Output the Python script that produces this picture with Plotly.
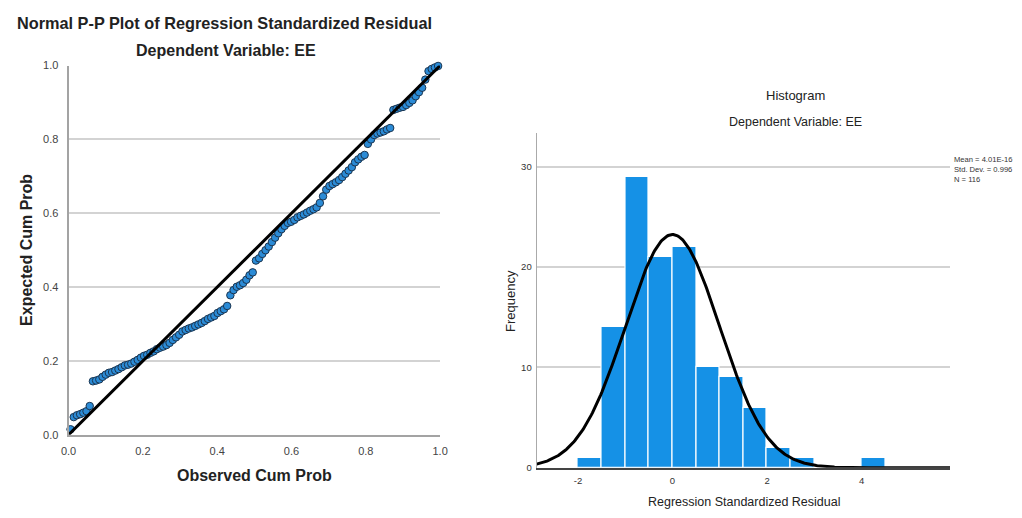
import numpy as np
import plotly.graph_objects as go

# ---------------- P-P plot data (116 ranked standardized residuals) ----------------
observed_cum_prob = [
    0.0054, 0.0140, 0.0226, 0.0312, 0.0398, 0.0484, 0.0570, 0.0656, 0.0742, 0.0828,
    0.0914, 0.1000, 0.1086, 0.1172, 0.1258, 0.1344, 0.1430, 0.1516, 0.1602, 0.1688,
    0.1774, 0.1860, 0.1946, 0.2032, 0.2118, 0.2204, 0.2290, 0.2376, 0.2462, 0.2548,
    0.2634, 0.2720, 0.2806, 0.2892, 0.2978, 0.3065, 0.3151, 0.3237, 0.3323, 0.3409,
    0.3495, 0.3581, 0.3667, 0.3753, 0.3839, 0.3925, 0.4011, 0.4097, 0.4183, 0.4269,
    0.4355, 0.4441, 0.4527, 0.4613, 0.4699, 0.4785, 0.4871, 0.4957, 0.5043, 0.5129,
    0.5215, 0.5301, 0.5387, 0.5473, 0.5559, 0.5645, 0.5731, 0.5817, 0.5903, 0.5989,
    0.6075, 0.6161, 0.6247, 0.6333, 0.6419, 0.6505, 0.6591, 0.6677, 0.6763, 0.6849,
    0.6935, 0.7022, 0.7108, 0.7194, 0.7280, 0.7366, 0.7452, 0.7538, 0.7624, 0.7710,
    0.7796, 0.7882, 0.7968, 0.8054, 0.8140, 0.8226, 0.8312, 0.8398, 0.8484, 0.8570,
    0.8656, 0.8742, 0.8828, 0.8914, 0.9000, 0.9086, 0.9172, 0.9258, 0.9344, 0.9430,
    0.9516, 0.9602, 0.9688, 0.9774, 0.9860, 0.9946,
]
expected_cum_prob = [
    0.015, 0.048, 0.053, 0.056, 0.060, 0.064, 0.078, 0.145, 0.147, 0.150,
    0.157, 0.163, 0.168, 0.170, 0.174, 0.178, 0.183, 0.188, 0.190, 0.193,
    0.198, 0.203, 0.209, 0.214, 0.217, 0.222, 0.226, 0.232, 0.236, 0.239,
    0.243, 0.249, 0.257, 0.264, 0.271, 0.280, 0.284, 0.288, 0.291, 0.295,
    0.299, 0.303, 0.308, 0.314, 0.318, 0.322, 0.330, 0.335, 0.340, 0.349,
    0.378, 0.392, 0.401, 0.405, 0.411, 0.420, 0.432, 0.440, 0.472, 0.478,
    0.490, 0.500, 0.510, 0.522, 0.534, 0.546, 0.557, 0.566, 0.574, 0.577,
    0.582, 0.589, 0.593, 0.597, 0.602, 0.607, 0.611, 0.616, 0.628, 0.646,
    0.664, 0.674, 0.679, 0.684, 0.690, 0.698, 0.707, 0.716, 0.725, 0.738,
    0.746, 0.753, 0.758, 0.788, 0.800, 0.812, 0.816, 0.819, 0.822, 0.827,
    0.831, 0.880, 0.883, 0.886, 0.888, 0.893, 0.899, 0.906, 0.917, 0.928,
    0.940, 0.962, 0.985, 0.991, 0.995, 0.999,
]
pp_ticks = [0.0, 0.2, 0.4, 0.6, 0.8, 1.0]
pp_tick_labels = ["0.0", "0.2", "0.4", "0.6", "0.8", "1.0"]

# ---------------- Histogram data ----------------
bin_starts = [-2.0, -1.5, -1.0, -0.5, 0.0, 0.5, 1.0, 1.5, 2.0, 2.5, 4.0]
bin_counts = [1, 14, 29, 21, 22, 10, 9, 6, 2, 1, 1]
bin_width = 0.5
resid_mean = 4.01e-16
resid_sd = 0.996
n_cases = 116
hist_xticks = [-2, 0, 2, 4]
hist_xtick_labels = ["-2", "0", "2", "4"]
hist_yticks = [0, 10, 20, 30]
hist_ytick_labels = ["0", "10", "20", "30"]

FONT = "Liberation Sans, Arial, sans-serif"

fig = go.Figure()

# P-P points
fig.add_trace(go.Scatter(
    x=observed_cum_prob, y=expected_cum_prob, mode="markers",
    marker=dict(size=7.5, color="#2b8bd6", line=dict(color="#1b3550", width=1)),
    cliponaxis=False, xaxis="x", yaxis="y", hoverinfo="skip",
))
# reference diagonal
fig.add_trace(go.Scatter(
    x=[0, 1], y=[0, 1], mode="lines",
    line=dict(color="black", width=3), cliponaxis=False,
    xaxis="x", yaxis="y", hoverinfo="skip",
))

# histogram bars
bar_centers = [s + bin_width / 2 for s in bin_starts]
fig.add_trace(go.Bar(
    x=bar_centers, y=bin_counts, width=bin_width,
    marker=dict(color="#1591e6", line=dict(color="white", width=1.2)),
    xaxis="x2", yaxis="y2", hoverinfo="skip",
))

# fitted normal curve scaled to counts
x_lo, x_hi = -2.875, 5.87
xc = np.linspace(x_lo, x_hi, 400)
yc = n_cases * bin_width / (resid_sd * np.sqrt(2 * np.pi)) * np.exp(-0.5 * ((xc - resid_mean) / resid_sd) ** 2)
fig.add_trace(go.Scatter(
    x=xc, y=yc, mode="lines", line=dict(color="black", width=3),
    xaxis="x2", yaxis="y2", hoverinfo="skip",
))

W, H = 1022, 518


def px_x(p):
    return p / W


def px_y(p):
    return 1 - p / H


fig.update_layout(
    width=W, height=H, margin=dict(l=0, r=0, t=0, b=0),
    paper_bgcolor="white", plot_bgcolor="white", showlegend=False,
    bargap=0,
    xaxis=dict(
        domain=[px_x(61.5), px_x(439)], range=[0, 1], anchor="y",
        tickvals=pp_ticks, ticktext=pp_tick_labels, showgrid=False, zeroline=False,
        showline=True, linecolor="#a3a3a3", linewidth=2, ticks="", ticklabelstandoff=5,
        tickfont=dict(family=FONT, size=11, color="#444"),
    ),
    yaxis=dict(
        domain=[px_y(439), px_y(61)], range=[0, 1], anchor="x",
        tickvals=pp_ticks, ticktext=pp_tick_labels, showgrid=True,
        gridcolor="#d3d3d3", gridwidth=1.5, zeroline=False,
        showline=True, linecolor="#a3a3a3", linewidth=2, ticks="", ticklabelstandoff=6,
        tickfont=dict(family=FONT, size=11, color="#444"),
    ),
    xaxis2=dict(
        domain=[px_x(537), px_x(957)], range=[x_lo, x_hi], anchor="y2",
        tickvals=hist_xticks, ticktext=hist_xtick_labels, showgrid=False, zeroline=False,
        showline=True, linecolor="#444", linewidth=1.5, ticks="", ticklabelstandoff=3,
        tickfont=dict(family=FONT, size=9.5, color="#333"),
    ),
    yaxis2=dict(
        domain=[px_y(472.7), px_y(130)], range=[0, 33.35], anchor="x2",
        tickvals=hist_yticks, ticktext=hist_ytick_labels, showgrid=True,
        gridcolor="#d3d3d3", gridwidth=1.5, zeroline=False,
        showline=True, linecolor="#aaa", linewidth=1, ticks="", ticklabelstandoff=2,
        tickfont=dict(family=FONT, size=9.5, color="#333"),
    ),
)

annotations = [
    # P-P titles
    dict(text="<b>Normal P-P Plot of Regression Standardized Residual</b>", x=px_x(220), y=px_y(17),
         font=dict(family=FONT, size=16.3, color="#222")),
    dict(text="<b>Dependent Variable: EE</b>", x=px_x(221), y=px_y(46),
         font=dict(family=FONT, size=16, color="#222")),
    dict(text="<b>Observed Cum Prob</b>", x=px_x(250), y=px_y(481),
         font=dict(family=FONT, size=16, color="#222")),
    dict(text="<b>Expected Cum Prob</b>", x=px_x(18), y=px_y(250), textangle=-90,
         font=dict(family=FONT, size=16, color="#222")),
    # histogram titles
    dict(text="Histogram", x=px_x(800), y=px_y(91.5),
         font=dict(family=FONT, size=13, color="#222")),
    dict(text="Dependent Variable: EE", x=px_x(800), y=px_y(119),
         font=dict(family=FONT, size=12.5, color="#222")),
    dict(text="Regression Standardized Residual", x=px_x(748), y=px_y(508),
         font=dict(family=FONT, size=12.5, color="#222")),
    dict(text="Frequency", x=px_x(510), y=px_y(302), textangle=-90,
         font=dict(family=FONT, size=13, color="#222")),
    # summary statistics
    dict(text=f"Mean = 4.01E-16<br>Std. Dev. = {resid_sd}<br>N = {n_cases}",
         x=px_x(959), y=px_y(150), xanchor="left", yanchor="top", align="left",
         font=dict(family=FONT, size=7.6, color="#333")),
]
for a in annotations:
    a.setdefault("xref", "paper")
    a.setdefault("yref", "paper")
    a.setdefault("xanchor", "center")
    a.setdefault("yanchor", "middle")
    a["showarrow"] = False
fig.update_layout(annotations=annotations)

fig.write_html("out.html")
